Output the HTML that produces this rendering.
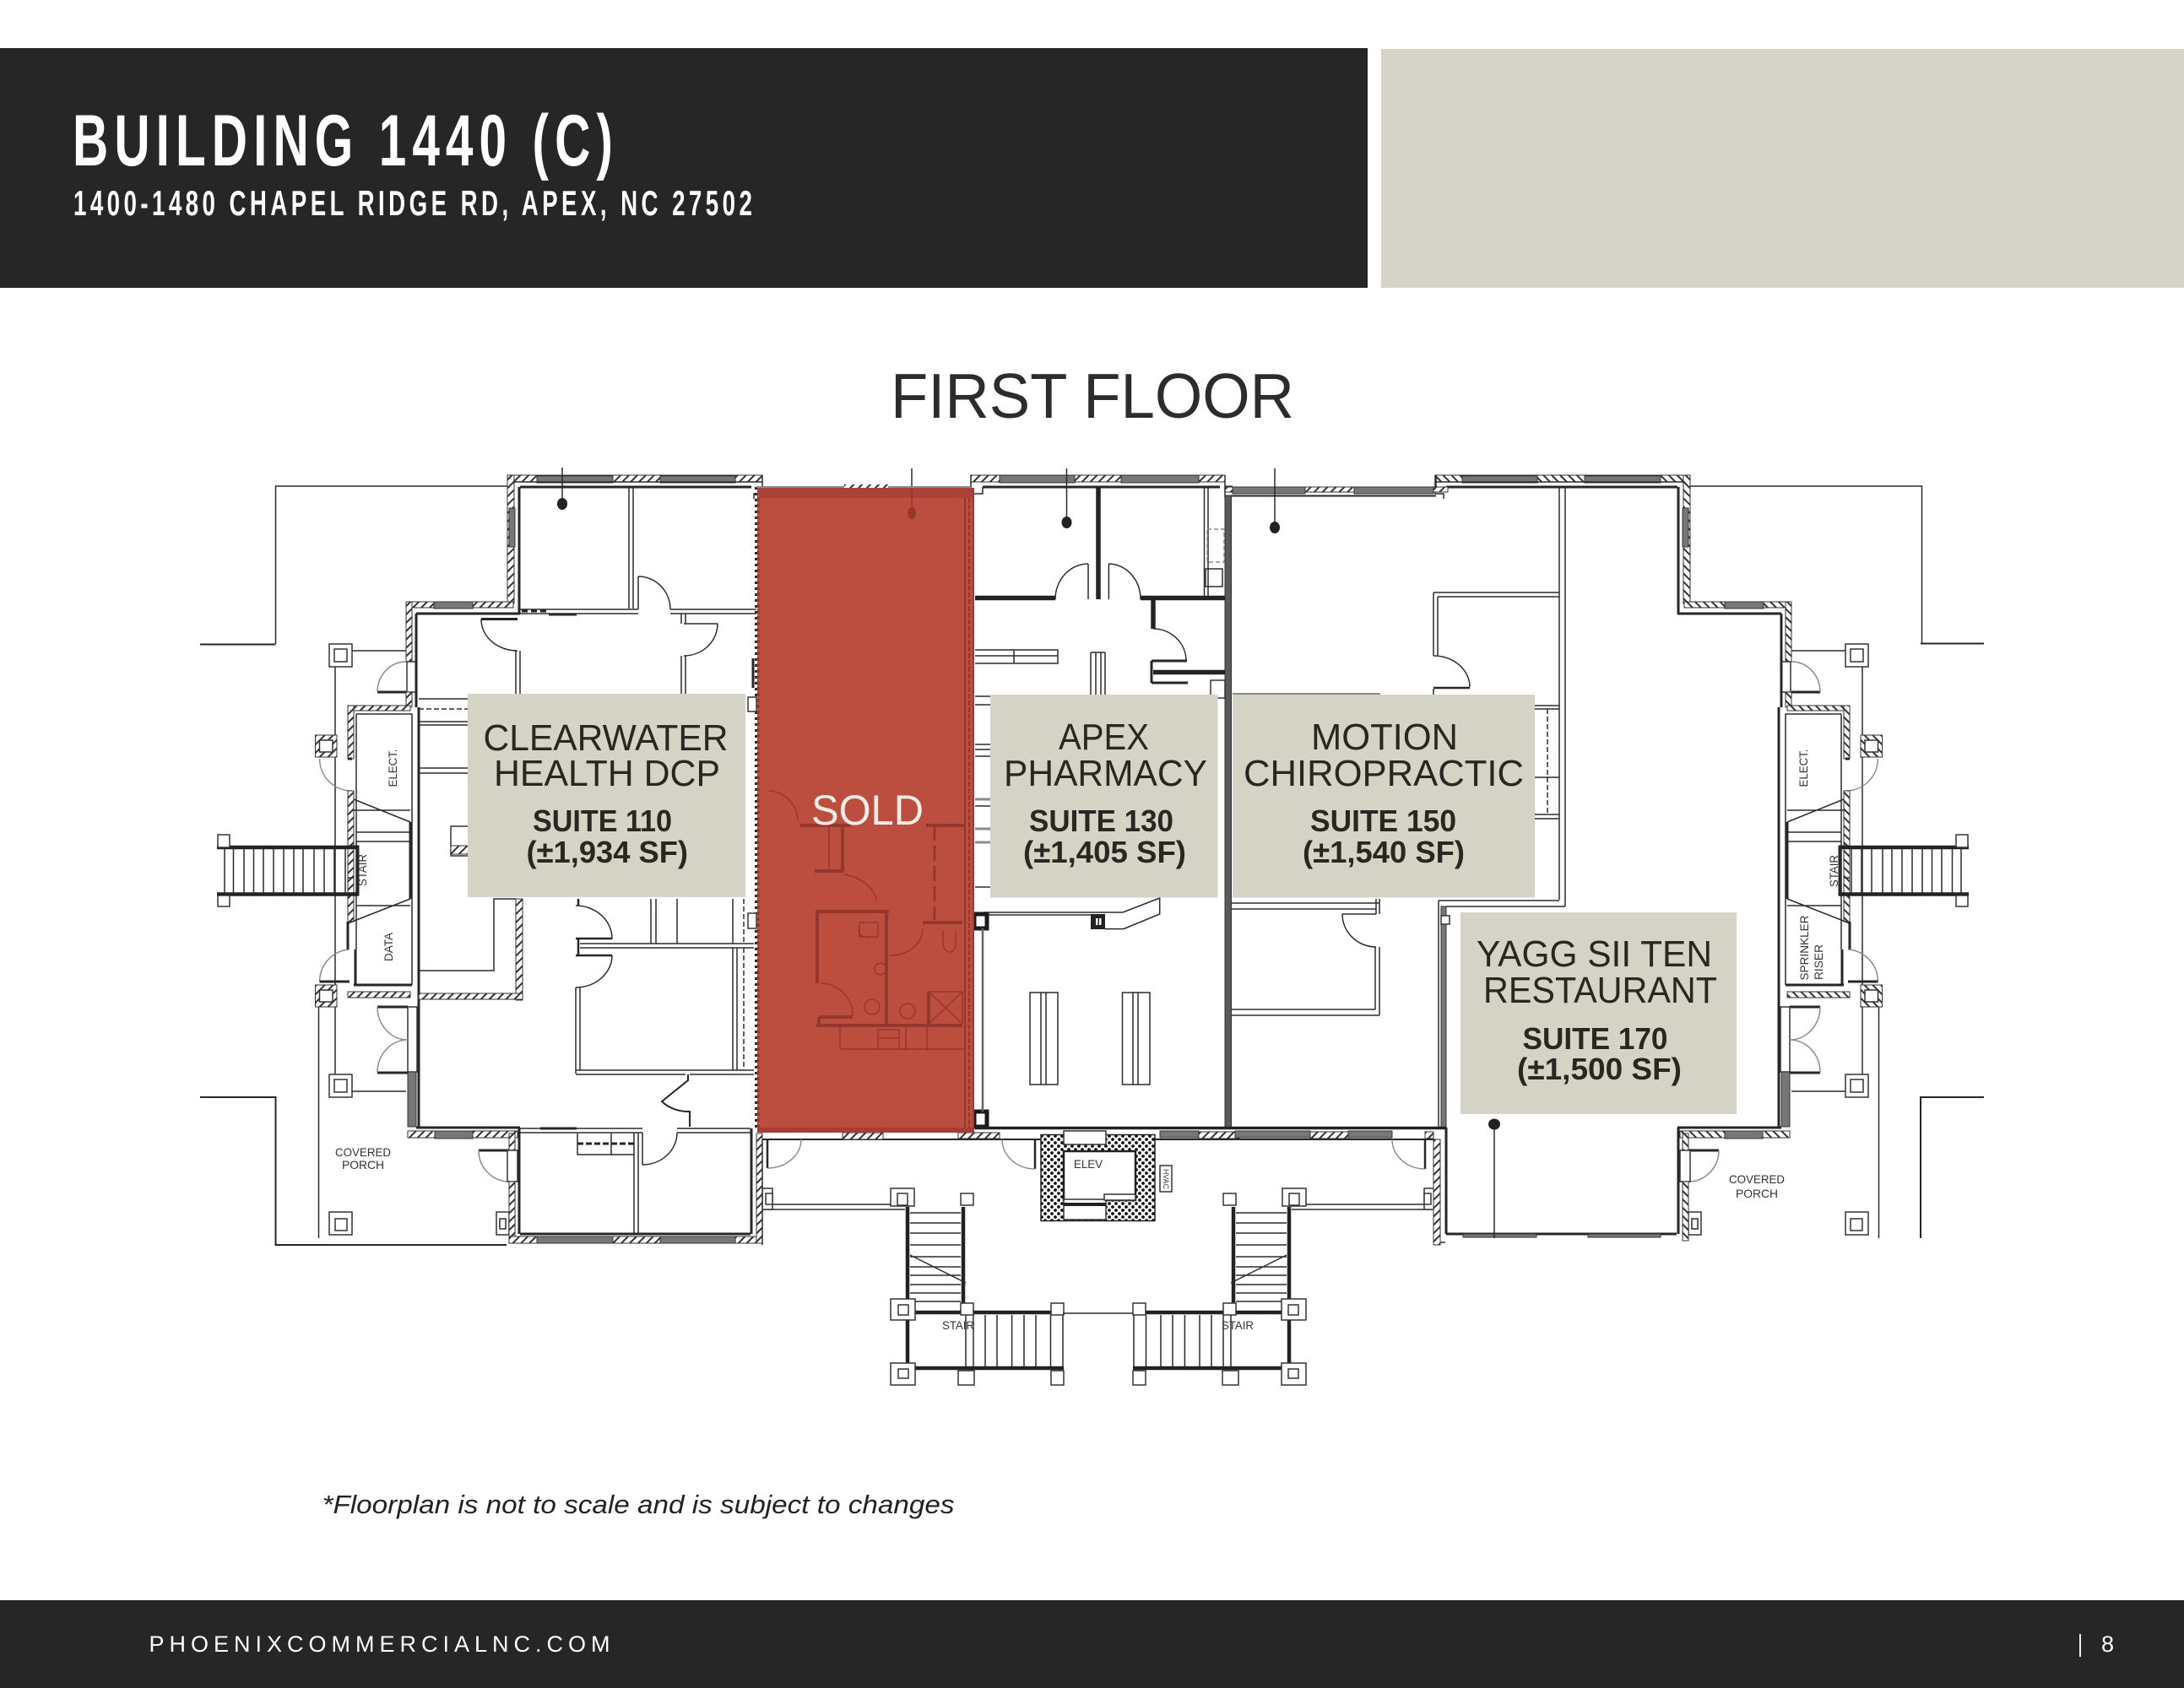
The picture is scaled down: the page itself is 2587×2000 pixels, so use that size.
<!DOCTYPE html>
<html><head><meta charset="utf-8"><title>Building 1440 (C) First Floor</title>
<style>
html,body{margin:0;padding:0;background:#fff}
svg{display:block}
text{font-family:"Liberation Sans",sans-serif}
.a{stroke:#2b2b2b;fill:none;stroke-width:1.5}
.b{stroke:#262626;fill:none;stroke-width:3}
.c{stroke:#222;fill:none;stroke-width:4.5}
.g{stroke:#8a8a8a;fill:none;stroke-width:1.5}
.w{fill:#777;stroke:#333;stroke-width:1}
.h{fill:url(#h);stroke:#333;stroke-width:1}
.n{fill:#fff;stroke:#333;stroke-width:1.5}
.r{stroke:#96372f;fill:none;stroke-width:1.5}
.rb{stroke:#96372f;fill:none;stroke-width:4}
.l{font-size:44px;fill:#2a2723}
.s{font-size:36px;font-weight:bold;fill:#2a2723}
.p{font-size:14px;fill:#333}
</style></head><body>
<svg width="2587" height="2000" viewBox="0 0 2587 2000" xmlns="http://www.w3.org/2000/svg">
<defs>
<pattern id="h" patternUnits="userSpaceOnUse" width="7" height="7" patternTransform="rotate(45)"><rect width="7" height="7" fill="#fff"/><rect width="2" height="7" fill="#333"/></pattern>
<pattern id="e" patternUnits="userSpaceOnUse" width="8" height="8"><rect width="8" height="8" fill="#fff"/><circle cx="2" cy="2" r="1.9" fill="#111"/><circle cx="6" cy="6" r="1.9" fill="#111"/></pattern>
<g id="col"><rect x="0" y="0" width="27" height="27" class="n"/><rect x="6" y="6" width="15" height="15" class="n"/></g>
<g id="hc"><rect x="0" y="0" width="25.5" height="26" class="h"/><rect x="5" y="6" width="15.5" height="14" class="n"/></g>
<!-- shell that is mirrored -->
<g id="s">
<path class="a" d="M326.5 763V576H601M397 789V871M397 897V1167M397 1193V1274M397 1293H481M377.5 1193V1467M390 771H397M411 771H481"/>
<rect class="h" x="601" y="563" width="302" height="8"/>
<rect class="w" x="636" y="564" width="90" height="8"/><rect class="w" x="782" y="564" width="89" height="8"/>
<path class="a" d="M903 563V585H893V591M601 571H903"/>
<path class="b" d="M616 577H890M615 577V727"/>
<rect class="h" x="601" y="563" width="8" height="152"/><rect class="w" x="603" y="602" width="7" height="46"/>
<rect class="h" x="481" y="713" width="127" height="7"/><rect class="w" x="514" y="713" width="46" height="8"/>
<path class="b" d="M493 727H616"/>
<rect class="h" x="481" y="713" width="7" height="71"/>
<rect class="n" x="482" y="784" width="11" height="36"/>
<path class="b" d="M493 727V838M496 838V1335"/>
<rect class="h" x="481" y="820" width="7" height="18"/>
<rect class="h" x="412" y="836" width="74" height="6"/>
<rect class="h" x="412" y="836" width="7" height="63"/>
<path class="a" d="M422 846H488V1167M422 846V1125"/>
<path class="b" d="M412 899H417M447 820H481"/>
<path class="g" d="M378.6 899A38 38 0 0 0 417 937M481 784A34 36 0 0 0 447 820"/>
<rect class="h" x="412" y="937" width="7" height="155"/>
<path class="a" d="M419 947L486 974M419 960H486M422 986H486M422 997H486M422 1073H486M486 1065L412 1094M412 1040H419"/>
<path class="b" d="M486 974V1065M412 1003H424V1060H412"/>
<path class="b" d="M412 1092V1125M421 1125V1167M419 1167H488"/>
<path class="g" d="M378.6 1163A38 38 0 0 1 414 1125"/>
<path class="b" d="M378.6 1163H414"/>
<use href="#hc" x="373.5" y="871"/><use href="#hc" x="373.5" y="1167"/>
<use href="#col" x="390" y="763"/><use href="#col" x="390" y="1273"/>
<rect class="h" x="412" y="1175" width="74" height="7"/>
<rect class="n" x="483" y="1193" width="11" height="77"/>
<path class="b" d="M447 1193H483M447 1271H483"/>
<path class="g" d="M447 1193A36 39 0 0 0 483 1232M447 1271A36 39 0 0 1 483 1232"/>
<rect x="390" y="1436" width="27" height="27" class="n"/><rect x="397" y="1444" width="14" height="14" class="n"/>
<rect class="n" x="588" y="1436" width="15" height="27"/><rect class="a" x="592" y="1444" width="7" height="12"/>
<rect class="w" x="483" y="1270" width="10" height="65"/>
<path class="b" d="M493 1336H616M615 1336V1462"/>
<rect class="h" x="483" y="1340" width="130" height="8"/><rect class="w" x="515" y="1340" width="45" height="9"/>
<rect class="h" x="603" y="1343" width="7" height="20"/>
<path class="b" d="M567 1363H603"/>
<path class="g" d="M567 1363A36 37 0 0 0 603 1400"/>
<rect class="n" x="601" y="1363" width="12" height="37"/>
<rect class="h" x="603" y="1400" width="7" height="70"/>
</g>
<g id="br">
<path class="c" d="M257 1004H411M257 1059.5H411"/>
<path class="a" d="M266 1004V1059M276.5 1004V1059M289 1004V1059M300.5 1004V1059M312 1004V1059M324 1004V1059M336 1004V1059M348 1004V1059M359 1004V1059M372 1004V1059M384 1004V1059M396 1004V1059M409 1004V1059"/>
<rect class="n" x="258" y="989" width="14" height="15"/><rect class="n" x="258" y="1061" width="14" height="13"/>
</g>
<g id="st">
<path class="a" d="M903 1427H1072M903 1433H1072"/>
<rect class="n" x="903" y="1408" width="12" height="25"/><rect class="n" x="907" y="1414" width="8" height="13"/>
<rect class="n" x="1055" y="1408" width="28" height="21"/><rect class="n" x="1063" y="1414" width="12" height="14"/>
<rect class="n" x="1138" y="1414" width="15" height="14"/>
<path class="c" d="M1075 1430V1621M1141 1430V1552"/>
<path class="a" d="M1078 1437H1138M1078 1449H1138M1078 1461H1138M1078 1475H1138M1078 1489H1138M1078 1501H1138M1078 1511H1138M1078 1522H1138M1078 1532H1138M1078 1542H1138M1078 1487L1144 1520M1082 1554H1144"/>
<path class="c" d="M1064 1555H1259M1075 1621H1260"/>
<path class="a" d="M1153 1558V1619M1167 1558V1619M1181 1558V1619M1198.6 1558V1619M1213 1558V1619M1227 1558V1619M1244.5 1558V1619M1259 1558V1619M1144 1558V1619"/>
<rect class="n" x="1055" y="1539" width="29" height="25"/><rect class="n" x="1064" y="1546" width="12" height="12"/>
<rect class="n" x="1138" y="1544" width="15" height="14"/><rect class="n" x="1245" y="1544" width="15" height="14"/>
<rect class="n" x="1055" y="1615" width="29" height="26"/><rect class="n" x="1064" y="1622" width="12" height="11"/>
<rect class="n" x="1135" y="1624" width="19" height="17"/><rect class="n" x="1245" y="1624" width="15" height="17"/>
</g>
</defs>
<rect width="2587" height="2000" fill="#fff"/>
<rect x="0" y="57" width="1620" height="284" fill="#262626"/>
<rect x="1636" y="58" width="951" height="283" fill="#d6d3c8"/>
<text transform="translate(86,196) scale(.68,1)" font-size="86" font-weight="bold" fill="#fff" textLength="941" lengthAdjust="spacing">BUILDING 1440 (C)</text>
<text transform="translate(87,255) scale(.66,1)" font-size="42" font-weight="bold" fill="#fff" textLength="1218" lengthAdjust="spacing">1400-1480 CHAPEL RIDGE RD, APEX, NC 27502</text>
<text x="1055" y="495" font-size="75" fill="#2c2c2c" textLength="478" lengthAdjust="spacingAndGlyphs">FIRST FLOOR</text>

<use href="#s"/><use href="#s" transform="translate(2603,0) scale(-1,1)"/>
<use href="#br"/><use href="#br" transform="translate(2589,0) scale(-1,1)"/>
<path class="c" d="M411 1004H424M411 1059.5H424"/>
<use href="#st"/><use href="#st" transform="translate(2602,0) scale(-1,1)"/>
<!-- left only fragments -->
<path class="b" d="M650 728H683"/>
<path class="b" stroke-dasharray="7 4" d="M618 724H650"/>

<!-- porch outer lines -->
<path class="b" style="stroke-width:2" d="M237 763.5H326.5M237 1300H326.5V1475H600M2350 762.5H2275M2350 1300H2275V1467"/>
<path class="a" d="M377.5 1475H600"/>
<!-- left lower -->
<path class="b" d="M616 1462H889"/>
<rect class="h" x="603" y="1465" width="300" height="8"/>
<rect class="w" x="636" y="1465" width="90" height="8"/><rect class="w" x="782" y="1465" width="89" height="8"/>
<rect class="h" x="896" y="1343" width="7" height="130"/>
<path class="b" d="M890 1337V1462"/>
<path class="a" d="M903 1350V1475"/>
<!-- suite 110 interior -->
<path class="a" d="M745 577V721M750 577V721M616 722H756M794 722H896M616 727H756M794 727H896"/>
<path class="a" d="M756 683V722M756 683A38 39 0 0 1 794 722"/>
<path class="b" d="M570 733.5H613"/>
<path class="a" d="M570 733.5A43 37 0 0 0 613 771M611 771V822M616 771V822M810 739H850M850 739A40 38 0 0 1 810 777M807 727V739M812 727V739M807 777V822M812 777V822"/>
<path class="a" d="M496 828H554M496 855H554M496 859H554M496 910H554M496 916H554"/>
<path class="a" stroke-dasharray="6 3" d="M496 840H554"/>
<rect class="n" x="534" y="979" width="21" height="35"/>
<rect class="h" x="534" y="1002" width="21" height="10"/>
<path class="a" d="M496 1150H585V1065H611"/>
<rect class="h" x="611" y="1065" width="8" height="120"/>
<rect class="h" x="496" y="1177" width="123" height="7"/>
<path class="b" d="M682 1112H725M682 1132H725M685 1112V1132M685 1065V1073" style="stroke-width:2.5"/>
<path class="a" d="M682 1073A43 39 0 0 1 725 1112M725 1132A43 38 0 0 1 682 1170"/>
<path class="a" d="M687 1118H893M687 1123H893M771 1065V1118M777 1065V1118M802 1065V1118M868 1065V1118M868 1123V1268M873 1123V1268M682 1170V1272M687 1170V1268M682 1268H893M682 1273H812M817 1273H893"/>
<path class="a" stroke-dasharray="6 3" d="M881 1065V1118M881 1123V1268"/>
<path class="b" d="M815 1273V1280L784 1305A40 30 0 0 0 817 1317V1335" style="stroke-width:2"/>
<path class="a" d="M616 1337H761M802 1337H889M616 1342H761M802 1342H889M761 1342V1380M751 1342V1462M756 1342V1462M684 1343V1368H751M724 1343V1368"/>
<path class="a" d="M761 1380A41 38 0 0 0 802 1342"/>
<path class="b" stroke-dasharray="7 3" d="M684 1355H751"/>
<path class="b" d="M640 1337H683"/>
<path class="b" stroke-dasharray="3 4" d="M895.5 577V1337"/>
<rect class="n" x="886" y="826" width="10" height="17"/><rect class="n" x="886" y="1082" width="10" height="18"/>
<path class="b" d="M892 780V815"/>
<!-- top wall right of red -->
<rect class="h" x="1150" y="563" width="301" height="8"/>
<rect class="w" x="1184" y="563" width="89" height="9"/><rect class="w" x="1328" y="563" width="92" height="9"/>
<path class="b" d="M1164 577H1445"/>
<path class="a" d="M1150 563V585H1164V577M1451 563V578"/>
<path class="b" d="M1451 577H1460" />
<rect class="h" x="1451" y="577" width="264" height="6"/>
<rect class="w" x="1460" y="577" width="86" height="8"/><rect class="w" x="1604" y="577" width="94" height="8"/>
<path class="b" style="stroke-width:2" d="M1458 587.5H1701"/>
<path class="a" d="M1451 590V578M1701 563V577"/>
<!-- party walls -->
<rect x="1451" y="587" width="7.5" height="749" fill="#5a5a5a" stroke="#333" stroke-width="1"/>
<path class="a" d="M1847 577V1066M1854 577V1074M1704 1067H1847M1713 1074H1854M1704 1067V1336"/>
<rect x="1707" y="1074" width="6" height="262" fill="#777" stroke="#333" stroke-width="1"/>
<rect class="n" x="1707" y="1085" width="10" height="10"/>
<!-- apex -->
<path class="c" d="M1301 577V710M1155 708.5H1250M1351 708.5H1451M1366 711V745M1366 796.5H1451" style="stroke-width:5.5"/>
<path class="a" d="M1289 668V710M1313.4 668V710M1289 668A39 42 0 0 0 1250 710M1313.4 668A38 42 0 0 1 1351 710"/>
<path class="a" d="M1426.5 577V706M1431 577V706"/>
<rect class="a" x="1428" y="674" width="20" height="21"/>
<rect class="g" stroke-dasharray="5 3" x="1430" y="627" width="20" height="39"/>
<path class="a" d="M1366 745A39 38 0 0 1 1405 783"/>
<path class="b" d="M1364 783H1406M1364 783V800M1364 809H1407M1364 800V809"/>
<path class="a" d="M1155 770H1253V786H1155M1155 777H1253M1201 770V786M1292 773V823M1298 773V823M1304 773V823M1309 773V823M1292 773H1309"/>
<rect class="n" x="1434" y="806" width="17" height="21"/>
<path class="a" d="M1155 825H1173M1155 835H1173M1155 882H1173M1155 888H1173M1155 896H1173M1155 955H1173M1155 1051H1173"/>
<path class="g" style="stroke-width:3" d="M1155 947H1173M1155 982H1173M1155 998H1173"/>
<path class="a" d="M1165 1081H1330L1373.7 1064V1083L1331 1100.6H1309M1165 1084H1292"/>
<rect x="1292" y="1083" width="17" height="18" fill="#222"/><rect x="1298" y="1088" width="2.5" height="8" fill="#fff"/><rect x="1302" y="1088" width="2.5" height="8" fill="#fff"/>
<rect x="1154" y="1083" width="15" height="17" fill="none" stroke="#1c1c1c" stroke-width="5"/>
<rect x="1154" y="1317" width="15" height="18" fill="none" stroke="#1c1c1c" stroke-width="5"/>
<path class="g" style="stroke:#666;stroke-width:2.5" d="M1164 1100V1317"/>
<path class="a" d="M1220 1176H1253V1285H1220ZM1233 1176V1285M1239 1176V1285M1329.5 1176H1362V1285H1329.5ZM1342 1176V1285M1348 1176V1285"/>
<!-- motion -->
<path class="a" d="M1698 702H1847M1703 707H1847M1698 702V777M1703 707V777M1698 777A43 37 0 0 1 1741 814"/>
<path class="b" style="stroke-width:2.5" d="M1698 815H1741"/>
<path class="a" d="M1698 816V823M1818 836H1847M1818 840H1847M1818 921H1847M1818 965H1847M1818 970H1847"/>
<path class="a" stroke-dasharray="6 3" d="M1833 840V965"/>
<path class="g" style="stroke-width:2" d="M1460 822H1635"/>
<path class="a" d="M1459 1070H1634M1459 1077H1630M1630 1065V1083M1634 1065V1083M1590 1083H1630M1590 1083A40 39 0 0 0 1630 1122M1629 1122V1196M1634 1122V1203M1459 1196H1629M1459 1203H1634"/>
<!-- lobby band -->
<path class="c" style="stroke-width:3.5" d="M1155 1336.5H1713"/>
<path class="b" style="stroke-width:2" d="M903 1350H1233M1368 1350H1698"/>
<rect class="h" x="1135" y="1342" width="49" height="7"/>
<rect class="h" x="998" y="1342" width="48" height="8"/>
<rect class="w" x="1374" y="1340" width="46" height="8"/><rect class="h" x="1420" y="1341" width="48" height="8"/>
<rect class="w" x="1463" y="1340" width="89" height="8"/><rect class="h" x="1552" y="1341" width="45" height="8"/>
<rect class="w" x="1597" y="1340" width="52" height="8"/><rect class="h" x="1688" y="1341" width="10" height="8"/>
<path class="b" d="M1713 1336V1462"/>
<path class="a" d="M1700 1472H1712"/>
<path class="b" d="M909 1350V1384M1226 1350V1385M1688 1350V1385" style="stroke-width:2.5"/>
<path class="g" d="M909 1384A40 34 0 0 0 949 1350M1226 1385A39 35 0 0 1 1187 1350M1688 1385A39 35 0 0 1 1649 1350"/>
<rect class="h" x="1698" y="1350" width="8" height="125"/>
<!-- elevator -->
<rect x="1233" y="1344.5" width="135" height="102" fill="url(#e)" stroke="#222" stroke-width="1.5"/>
<rect x="1260" y="1364" width="85" height="58" fill="#fff" stroke="#222" stroke-width="2.5"/>
<rect class="n" x="1260" y="1340" width="50" height="16"/>
<rect class="n" x="1260" y="1421" width="50" height="24"/>
<rect x="1260" y="1425" width="50" height="4" fill="#222"/>
<rect class="n" x="1308" y="1415" width="37" height="7"/>
<rect class="n" x="1374" y="1381" width="14" height="31"/>
<path class="a" d="M1259 1556H1342"/>
<!-- suite 170 bottom -->
<path class="b" d="M1713 1462H1986"/>
<rect class="w" x="1733" y="1462" width="87" height="4"/><rect class="w" x="1881" y="1462" width="86" height="4"/>
<!-- drop lines -->
<path class="a" d="M666 554V597M1263.5 555V619M1510 555V625M1770 1332V1467M1080 555V580"/>
<ellipse cx="666" cy="597" rx="6" ry="7" fill="#222"/><ellipse cx="1263.5" cy="619" rx="6" ry="7" fill="#222"/><ellipse cx="1510" cy="625" rx="6" ry="7" fill="#222"/><ellipse cx="1770" cy="1332" rx="7" ry="6.5" fill="#222"/>

<!-- sold red -->
<path class="g" style="stroke-width:2" d="M896 577H1150"/>
<rect x="1000" y="574" width="52" height="4" fill="url(#h)"/>
<rect x="897" y="578" width="257" height="764" fill="#bc4e3f"/>
<rect x="897" y="578" width="257" height="12" fill="#ac423a"/>
<rect x="897" y="1336" width="257" height="6" fill="#a93c35"/>
<path class="r" stroke-dasharray="4 3" style="stroke-width:3" d="M898 590V1336"/>
<path class="r" style="stroke-width:2" d="M1143 590V1336"/>
<path class="r" stroke-dasharray="6 2" style="stroke-width:2" d="M1148 590V1336"/>
<path class="r" style="stroke-width:2;stroke:#a33" d="M1153 578V1342"/>
<ellipse cx="1080" cy="608" rx="5" ry="7" fill="#96372f"/><path class="r" d="M1080 578V608"/>
<path class="rb" d="M948 978H1008M1097 978H1143M998 978V1033M965 1032H998M1093 1093H1140M968 1078V1165M968 1080H1053M1050 1080V1213M967 1215H1140M970 1205H1010M970 1205V1215M1100 1175V1213"/>
<path class="rb" stroke-dasharray="18 6" style="stroke-width:3" d="M1107 978V1090"/>
<path class="r" d="M1100 1175H1140V1213M1100 1175L1140 1213M1140 1175L1100 1213M1000 1036A50 36 0 0 1 1038 1067M1055 1132A38 32 0 0 0 1093 1100M972 1165A38 38 0 0 1 1010 1203M910 937A36 36 0 0 1 945 972M982 978V1032M1018 1093V1110H1040V1093H1018M1017 1102A10 9 0 0 0 1030 1110M1117 1103V1118A7.5 10 0 0 0 1132 1118V1103M1040 1220H1065V1243H1040ZM995 1243H1143M995 1215V1243M1073 1215V1245M1098 1215V1245M1040 1230H1065"/>
<circle class="r" cx="1033" cy="1193" r="9"/><circle class="r" cx="1075" cy="1198" r="9"/><circle class="r" cx="1043" cy="1148" r="7"/>

<!-- label boxes -->
<rect x="554" y="822" width="329" height="241" fill="#d5d2c6"/>
<rect x="1173" y="823" width="269.5" height="240.5" fill="#d5d2c6"/>
<rect x="1460" y="823" width="358" height="240.5" fill="#d5d2c6"/>
<rect x="1730" y="1081" width="327" height="239" fill="#d5d2c6"/>

<text class="l" x="572.5" y="889" textLength="290" lengthAdjust="spacingAndGlyphs">CLEARWATER</text>
<text class="l" x="585" y="931" textLength="268" lengthAdjust="spacingAndGlyphs">HEALTH DCP</text>
<text class="s" x="631" y="985" textLength="165" lengthAdjust="spacingAndGlyphs">SUITE 110</text>
<text class="s" x="623.5" y="1022" textLength="191.5" lengthAdjust="spacingAndGlyphs">(±1,934 SF)</text>

<text class="l" x="1254" y="888" textLength="107" lengthAdjust="spacingAndGlyphs">APEX</text>
<text class="l" x="1189" y="931" textLength="241" lengthAdjust="spacingAndGlyphs">PHARMACY</text>
<text class="s" x="1219" y="985" textLength="171" lengthAdjust="spacingAndGlyphs">SUITE 130</text>
<text class="s" x="1212" y="1022" textLength="193" lengthAdjust="spacingAndGlyphs">(±1,405 SF)</text>

<text class="l" x="1553" y="888" textLength="174" lengthAdjust="spacingAndGlyphs">MOTION</text>
<text class="l" x="1473" y="931" textLength="332" lengthAdjust="spacingAndGlyphs">CHIROPRACTIC</text>
<text class="s" x="1552" y="985" textLength="173" lengthAdjust="spacingAndGlyphs">SUITE 150</text>
<text class="s" x="1543" y="1022" textLength="192" lengthAdjust="spacingAndGlyphs">(±1,540 SF)</text>

<text class="l" x="1749" y="1145" textLength="279" lengthAdjust="spacingAndGlyphs">YAGG SII TEN</text>
<text class="l" x="1757" y="1188" textLength="277" lengthAdjust="spacingAndGlyphs">RESTAURANT</text>
<text class="s" x="1803.5" y="1243" textLength="172" lengthAdjust="spacingAndGlyphs">SUITE 170</text>
<text class="s" x="1797" y="1279" textLength="195" lengthAdjust="spacingAndGlyphs">(±1,500 SF)</text>

<text x="961" y="977" font-size="50" fill="#f7ece6" textLength="133" lengthAdjust="spacingAndGlyphs">SOLD</text>

<!-- small plan labels -->
<text class="p" transform="translate(470,910) rotate(-90)" text-anchor="middle" textLength="45" lengthAdjust="spacingAndGlyphs">ELECT.</text>
<text class="p" transform="translate(434,1031) rotate(-90)" text-anchor="middle" textLength="38" lengthAdjust="spacingAndGlyphs">STAIR</text>
<text class="p" transform="translate(465,1122) rotate(-90)" text-anchor="middle" textLength="34" lengthAdjust="spacingAndGlyphs">DATA</text>
<text class="p" transform="translate(2141,910) rotate(-90)" text-anchor="middle" textLength="45" lengthAdjust="spacingAndGlyphs">ELECT.</text>
<text class="p" transform="translate(2177,1032) rotate(-90)" text-anchor="middle" textLength="38" lengthAdjust="spacingAndGlyphs">STAIR</text>
<text class="p" transform="translate(2142,1123) rotate(-90)" text-anchor="middle" textLength="77" lengthAdjust="spacingAndGlyphs">SPRINKLER</text>
<text class="p" transform="translate(2159,1140) rotate(-90)" text-anchor="middle" textLength="42" lengthAdjust="spacingAndGlyphs">RISER</text>
<text class="p" x="430" y="1370" text-anchor="middle" textLength="66" lengthAdjust="spacingAndGlyphs">COVERED</text>
<text class="p" x="430" y="1385" text-anchor="middle" textLength="50" lengthAdjust="spacingAndGlyphs">PORCH</text>
<text class="p" x="2081" y="1402" text-anchor="middle" textLength="66" lengthAdjust="spacingAndGlyphs">COVERED</text>
<text class="p" x="2081" y="1419" text-anchor="middle" textLength="50" lengthAdjust="spacingAndGlyphs">PORCH</text>
<text class="p" x="1289" y="1384" text-anchor="middle" textLength="34" lengthAdjust="spacingAndGlyphs">ELEV</text>
<text transform="translate(1378,1397) rotate(90)" text-anchor="middle" font-size="9" fill="#333" textLength="24" lengthAdjust="spacingAndGlyphs">HVAC</text>
<text class="p" x="1135" y="1575" text-anchor="middle" textLength="38" lengthAdjust="spacingAndGlyphs">STAIR</text>
<text class="p" x="1466" y="1575" text-anchor="middle" textLength="38" lengthAdjust="spacingAndGlyphs">STAIR</text>

<text x="381.5" y="1793" font-size="31" font-style="italic" fill="#222" textLength="749" lengthAdjust="spacingAndGlyphs">*Floorplan is not to scale and is subject to changes</text>

<rect x="0" y="1896" width="2587" height="104" fill="#262626"/>
<text x="176.5" y="1957" font-size="27" fill="#fff" textLength="546" lengthAdjust="spacing">PHOENIXCOMMERCIALNC.COM</text>
<rect x="2463" y="1936" width="2" height="27" fill="#eee"/>
<text x="2489" y="1957" font-size="27" fill="#fff">8</text>
</svg>
</body></html>
